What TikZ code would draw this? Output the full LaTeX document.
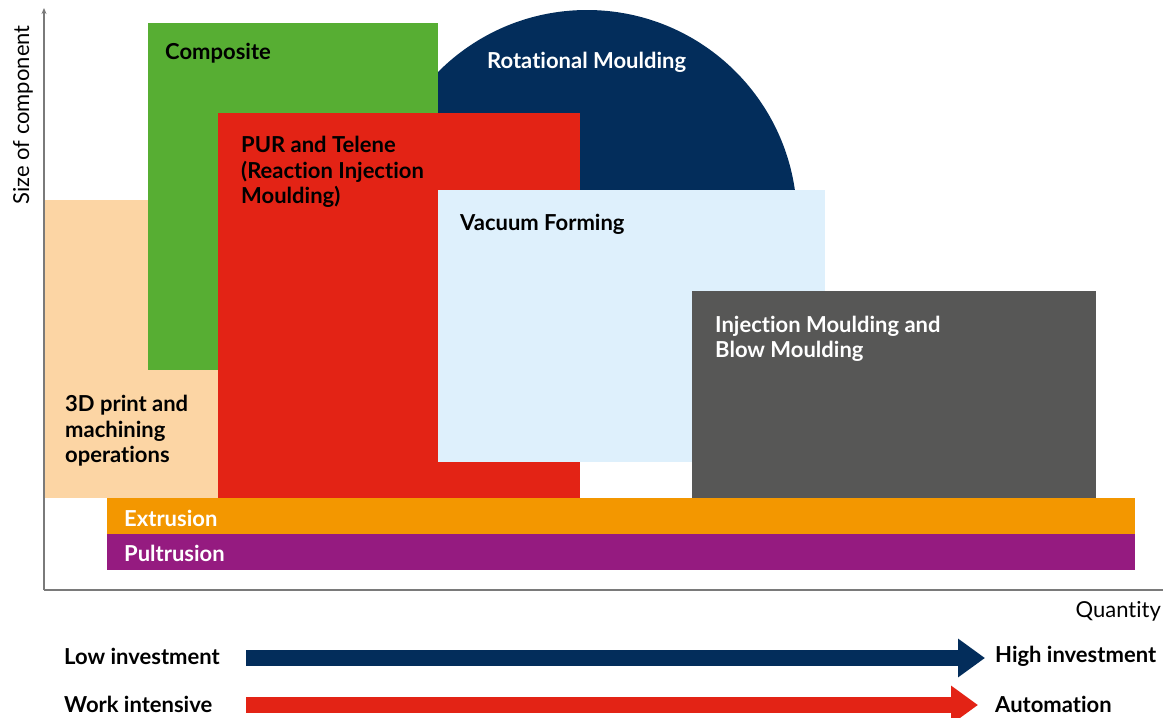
\documentclass[tikz,border=0pt]{standalone}
\usepackage{fontspec}
\setmainfont{Lato}[Ligatures=NoCommon]
\usetikzlibrary{arrows.meta}
\definecolor{mpeach}{HTML}{FCD5A4}
\definecolor{mgreen}{HTML}{57AE33}
\definecolor{mnavy}{HTML}{032D5B}
\definecolor{mred}{HTML}{E32315}
\definecolor{mlight}{HTML}{DEF0FC}
\definecolor{mgrey}{HTML}{575756}
\definecolor{morange}{HTML}{F39700}
\definecolor{mpurple}{HTML}{951B80}
\definecolor{maxis}{HTML}{7A7A7A}

\begin{document}
\begin{tikzpicture}[x=1pt,y=-1pt,
    lbl/.style={anchor=west,inner sep=0pt,align=left,font=\fontsize{22}{25.5}\selectfont\bfseries},
    lblw/.style={lbl,text=white},
    axislbl/.style={inner sep=0pt,font=\fontsize{22}{26}\selectfont},
    axisline/.style={draw=maxis,line width=1.1pt},
    bigarrow/.style={line width=16pt,-{Triangle[length=27pt,width=37pt]}}]
  \useasboundingbox (0,0) rectangle (1163,718);
  % process areas, back to front
  \fill[mpeach] (44,200) rectangle (230,498);
  \fill[mnavy] (377,220) arc[start angle=180,end angle=360,radius=210] -- cycle;
  \fill[mgreen] (148,23) rectangle (438,370);
  \fill[mred] (218,113) rectangle (580,498);
  \fill[mlight] (438,190) rectangle (825,462);
  \fill[mgrey] (692,291) rectangle (1096,498);
  \fill[morange] (107,498) rectangle (1135,534);
  \fill[mpurple] (107,534) rectangle (1135,570);
  % labels
  \node[lbl] (comp) at (165,53) {Composite};
  \node[lblw] (rot) at (487,62) {Rotational Moulding};
  \node[lbl] (pur) at (241,172) {PUR and Telene\\(Reaction Injection\\Moulding)};
  \node[lbl] (vac) at (460,224) {Vacuum Forming};
  \node[lblw] (inj) at (715,339) {Injection Moulding and\\Blow Moulding};
  \node[lbl] (print) at (65,431) {3D print and\\machining\\operations};
  \node[lblw] (extr) at (124,518) {Extrusion};
  \node[lblw] (pult) at (124,553) {Pultrusion};
  % axes
  \coordinate (origin) at (44,590);
  \coordinate (ytop) at (44,8);
  \coordinate (xend) at (1163,590);
  \draw[axisline,-{Stealth[length=6pt,width=5pt]}] (origin) -- (ytop);
  \draw[axisline] (origin) -- (xend);
  \node[axislbl,rotate=90] (ylbl) at (23,115) {Size of component};
  \node[axislbl,anchor=east] (xlbl) at (1161,611) {Quantity};
  % investment and automation arrows
  \node[lbl] (lowinv) at (64,656) {Low investment};
  \node[lbl] (highinv) at (995,656) {High investment};
  \node[lbl] (work) at (64,704) {Work intensive};
  \node[lbl] (auto) at (995,704) {Automation};
  \coordinate (inva) at (246,658);
  \coordinate (invb) at (985,658);
  \coordinate (auta) at (246,705);
  \coordinate (autb) at (978,705);
  \draw[bigarrow,mnavy] (inva) -- (invb);
  \draw[bigarrow,mred] (auta) -- (autb);
\end{tikzpicture}
\end{document}
